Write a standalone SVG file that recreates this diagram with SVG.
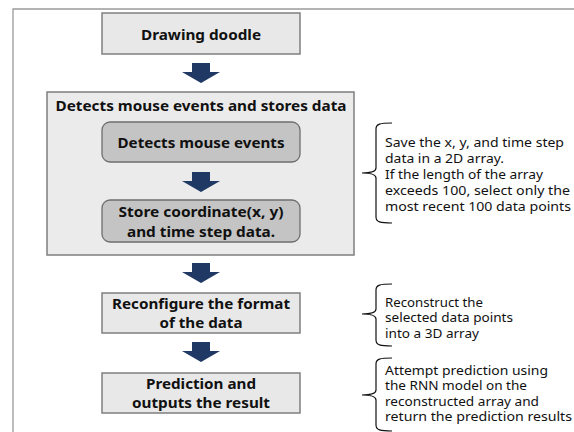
<svg xmlns="http://www.w3.org/2000/svg" width="574" height="432" viewBox="0 0 574 432">
<defs>
<style>
.box{fill:#e8e8e8;stroke:#7f7f7f;stroke-width:1.5}
.big{fill:#ebebeb;stroke:#7f7f7f;stroke-width:1.5}
.inner{fill:#c4c4c4;stroke:#6e6e6e;stroke-width:1.3}
.t{font-family:"Noto Sans","Open Sans","Liberation Sans",sans-serif;font-weight:bold;font-size:15px;fill:#111;text-anchor:middle}
.n{font-family:"Noto Sans","Open Sans","Liberation Sans",sans-serif;font-size:13px;fill:#111}
.brace{fill:none;stroke:#111;stroke-width:1.2}
.arrow{fill:#1f3864}
</style>
<path id="blk" d="M192,0 H210 V9 H220 L201,20 L182,9 H192 Z"/>
</defs>
<rect width="574" height="432" fill="#fff"/>
<path d="M13,432 V9 H574" fill="none" stroke="#9a9a9a" stroke-width="1.3"/>

<g id="n-drawing">
<rect class="box" x="102" y="13" width="198" height="41"/>
<text class="t" x="201" y="40" textLength="120" lengthAdjust="spacingAndGlyphs">Drawing doodle</text>
</g>

<g id="n-detect-store">
<rect class="big" x="47" y="92" width="307" height="163"/>
<text class="t" x="201" y="111" textLength="291" lengthAdjust="spacingAndGlyphs">Detects mouse events and stores data</text>
</g>

<g id="n-detect">
<rect class="inner" x="102" y="122" width="198" height="40" rx="8"/>
<text class="t" x="201" y="148" textLength="167" lengthAdjust="spacingAndGlyphs">Detects mouse events</text>
</g>

<g id="n-store">
<rect class="inner" x="102" y="200" width="198" height="42" rx="8"/>
<text class="t" x="201" y="217" textLength="165" lengthAdjust="spacingAndGlyphs">Store coordinate(x, y)</text>
<text class="t" x="201" y="237" textLength="148" lengthAdjust="spacingAndGlyphs">and time step data.</text>
</g>

<g id="n-reconfigure">
<rect class="box" x="102" y="293" width="198" height="40"/>
<text class="t" x="201" y="309" textLength="178" lengthAdjust="spacingAndGlyphs">Reconfigure the format</text>
<text class="t" x="201" y="328" textLength="83" lengthAdjust="spacingAndGlyphs">of the data</text>
</g>

<g id="n-predict">
<rect class="box" x="102" y="373" width="198" height="40"/>
<text class="t" x="201" y="389" textLength="110" lengthAdjust="spacingAndGlyphs">Prediction and</text>
<text class="t" x="201" y="408" textLength="138" lengthAdjust="spacingAndGlyphs">outputs the result</text>
</g>

<g id="connectors">
<use href="#blk" class="arrow" y="63"/>
<use href="#blk" class="arrow" y="172"/>
<use href="#blk" class="arrow" y="263"/>
<use href="#blk" class="arrow" y="342"/>
</g>

<g id="note-1">
<path class="brace" d="M392,123 C380,123 376,124 376,129 V168 C376,171 373,173 362,173 C373,173 376,175 376,178 V217 C376,222 380,223 392,223"/>
<text class="n" x="385" y="147" textLength="179" lengthAdjust="spacingAndGlyphs">Save the x, y, and time step</text>
<text class="n" x="385" y="163" textLength="119" lengthAdjust="spacingAndGlyphs">data in a 2D array.</text>
<text class="n" x="385" y="179" textLength="158" lengthAdjust="spacingAndGlyphs">If the length of the array</text>
<text class="n" x="385" y="195" textLength="185" lengthAdjust="spacingAndGlyphs">exceeds 100, select only the</text>
<text class="n" x="385" y="211" textLength="186" lengthAdjust="spacingAndGlyphs">most recent 100 data points</text>
</g>

<g id="note-2">
<path class="brace" d="M392,284 C380,284 376,285 376,290 V309 C376,312 373,314 362,314 C373,314 376,316 376,319 V340 C376,345 380,346 392,346"/>
<text class="n" x="385" y="307" textLength="98" lengthAdjust="spacingAndGlyphs">Reconstruct the</text>
<text class="n" x="385" y="322" textLength="128" lengthAdjust="spacingAndGlyphs">selected data points</text>
<text class="n" x="385" y="338" textLength="94" lengthAdjust="spacingAndGlyphs">into a 3D array</text>
</g>

<g id="note-3">
<path class="brace" d="M392,358 C380,358 376,359 376,364 V390 C376,393 373,395 362,395 C373,395 376,397 376,400 V425 C376,430 380,431 392,431"/>
<text class="n" x="385" y="375" textLength="163" lengthAdjust="spacingAndGlyphs">Attempt prediction using</text>
<text class="n" x="385" y="390" textLength="142" lengthAdjust="spacingAndGlyphs">the RNN model on the</text>
<text class="n" x="385" y="406" textLength="154" lengthAdjust="spacingAndGlyphs">reconstructed array and</text>
<text class="n" x="385" y="421" textLength="187" lengthAdjust="spacingAndGlyphs">return the prediction results</text>
</g>
</svg>
